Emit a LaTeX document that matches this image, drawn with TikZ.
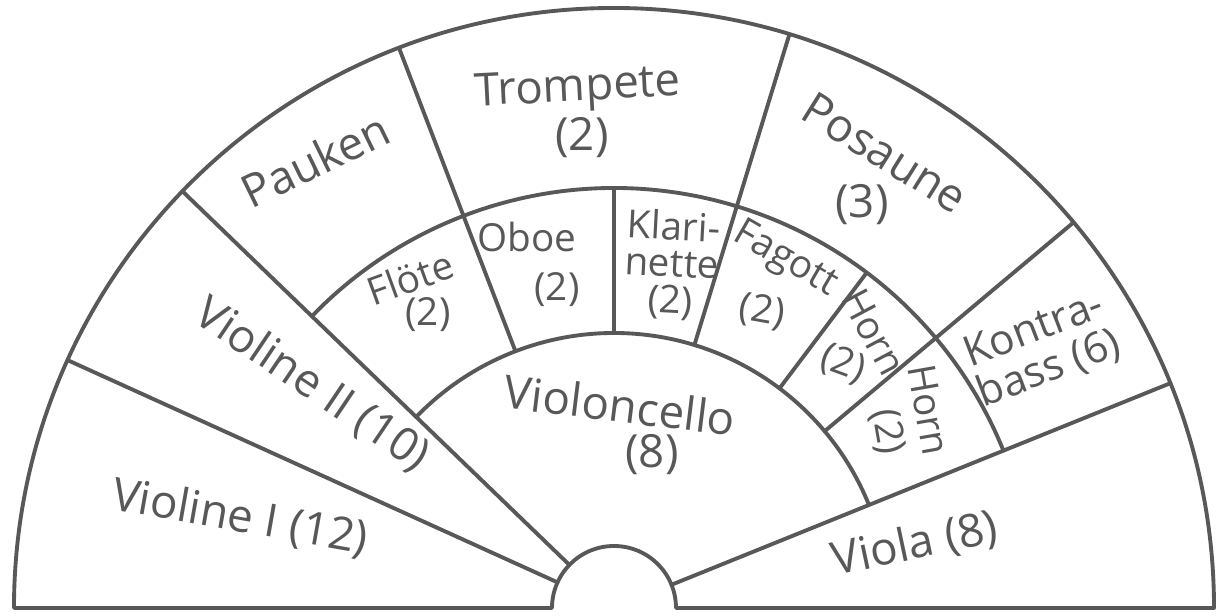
\documentclass[tikz,border=0pt]{standalone}
\usepackage{fontspec}
\setmainfont{Open Sans}
\usetikzlibrary{positioning}
\definecolor{pencil}{RGB}{88,88,88}
\tikzset{
  seat/.style={draw=pencil,line width=1.1pt,line join=round,line cap=round},
  part/.style={text=pencil,font=\fontsize{13}{12}\selectfont,align=center,inner sep=1pt},
  wind/.style={part,font=\fontsize{11}{10.5}\selectfont},
}

\begin{document}
\begin{tikzpicture}
  \useasboundingbox (-6.14,-0.08) rectangle (6.14,6.08);
  % stage outline and rows
  \draw[seat] (-6,0) -- (-0.62,0) arc (180:0:0.62) -- (6,0) arc (0:180:6);
  \foreach \a in {155.6,136,22} \draw[seat] (\a:0.62) -- (\a:6);
  \foreach \r in {2.75,4.2} \draw[seat] (136:\r) arc (136:22:\r);
  \foreach \a/\ri/\ro in {111/2.75/6,73/2.75/6,40/2.75/6,90/2.75/4.2,53/2.75/4.2}
    \draw[seat] (\a:\ri) -- (\a:\ro);
  % strings, brass, percussion
  \foreach \n/\x/\y/\r/\t in {
    vla/-3.74/0.90/-10/Violine I (12),
    vlb/-3.02/2.23/-34/Violine II (10),
    pk/-2.99/4.48/26/Pauken,
    tp/-0.36/5.18/3/Trompete,
    tpn/-0.32/4.70/0/(2),
    pos/2.71/4.55/-32/Posaune,
    posn/2.48/4.03/0/(3),
    vc/0.06/2.03/-7/Violoncello,
    vcn/0.38/1.53/0/(8),
    va/3.01/0.63/12/Viola (8)}
    \node[part,rotate=\r] (\n) at (\x,\y) {\t};
  % woodwinds and horns
  \foreach \n/\x/\y/\r/\t in {
    fl/-2.04/3.30/20/Flöte,
    fln/-1.86/2.93/0/(2),
    ob/-0.87/3.71/0/Oboe,
    obn/-0.57/3.18/0/(2),
    fg/1.71/3.48/-30/Fagott,
    fgn/1.48/2.96/-10/(2),
    hra/2.60/2.76/-62/Horn,
    hran/2.29/2.44/-20/(2),
    hrb/3.15/1.98/-80/Horn,
    hrbn/2.73/1.76/-80/(2)}
    \node[wind,rotate=\r] (\n) at (\x,\y) {\t};
  \node[wind,rotate=-3] (kl) at (0.58,3.43) {Klari-\\nette\\(2)};
  \node[wind,rotate=21,font=\fontsize{12}{12}\selectfont] (kb) at (4.28,2.58) {Kontra-\\bass (6)};
\end{tikzpicture}
\end{document}
